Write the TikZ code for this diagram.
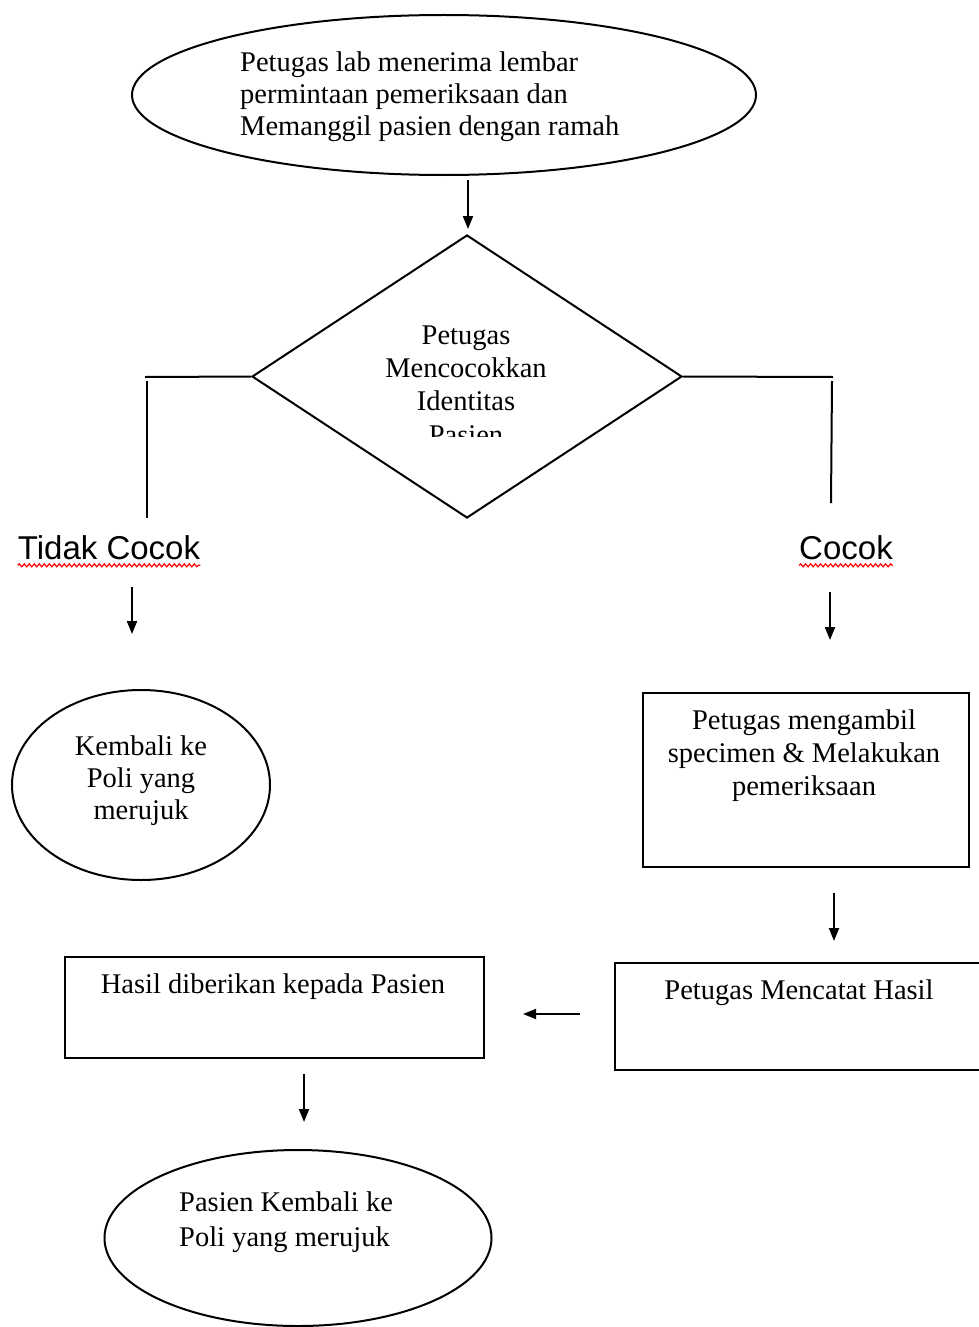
\documentclass[tikz,border=0pt]{standalone}
\usepackage{fontspec}
\setmainfont{Liberation Serif}
\newfontfamily\arialf{Liberation Sans}
\usetikzlibrary{shapes.geometric,arrows.meta,decorations.pathmorphing,calc}
\begin{document}
\begin{tikzpicture}[x=1pt,y=-1pt,
  shp/.style={draw=black,line width=2pt,inner sep=0pt},
  txt/.style={font=\fontsize{28.5}{32}\selectfont,inner sep=0pt},
  arr/.style={line width=2pt,-{Triangle[length=13pt,width=10pt]}},
  ln/.style={line width=2pt},
  lbl/.style={font=\arialf\fontsize{33}{36}\selectfont,inner sep=0pt},
  wavy/.style={draw=red,line width=1.2pt,decorate,decoration={snake,amplitude=1.5pt,segment length=5pt}}]
\useasboundingbox (0,0) rectangle (979,1327);
\fill[white] (0,0) rectangle (979,1327);

% top ellipse
\node[shp,ellipse,minimum width=624pt,minimum height=160pt] (start) at (444,95) {};
\node[txt,anchor=west,align=left] (starttxt) at (240,97) {Petugas lab menerima  lembar\\permintaan  pemeriksaan  dan\\Memanggil  pasien  dengan  ramah};

% diamond
\node[shp,diamond,minimum width=430pt,minimum height=283pt] (dec) at (467,376.5) {};
\begin{scope}
\clip (320,300) rectangle (620,436);
\node[txt,align=center,font=\fontsize{28.5}{33.3}\selectfont] (dectxt) at (466,385) {Petugas\\Mencocokkan\\Identitas\\Pasien};
\end{scope}

% branch lines
\coordinate (lh) at (145,377);
\coordinate (lv1) at (147,381);
\coordinate (lv2) at (147,518);
\coordinate (rh) at (833,377);
\coordinate (rv1) at (832,381);
\coordinate (rv2) at (831,503);
\draw[ln] (dec.west) -- (lh);
\draw[ln] (lv1) -- (lv2);
\draw[ln] (dec.east) -- (rh);
\draw[ln] (rv1) -- (rv2);

% labels
\node[lbl] (tidak) at (109,548) {Tidak Cocok};
\node[lbl] (cocok) at (846,548) {Cocok};
\draw[wavy] ($(tidak.south west)+(0,5)$) -- ($(tidak.south east)+(0,5)$);
\draw[wavy] ($(cocok.south west)+(0,5)$) -- ($(cocok.south east)+(0,5)$);

% left circle
\node[shp,ellipse,minimum width=258pt,minimum height=190pt] (kembali) at (141,785) {};
\node[txt,align=center] (kembalitxt) at (141,781) {Kembali  ke\\Poli yang\\merujuk};

% right rect
\node[shp,rectangle,minimum width=326pt,minimum height=174pt] (ambil) at (806,780) {};
\node[txt,align=center,font=\fontsize{28.5}{33}\selectfont] (ambiltxt) at (804,756) {Petugas mengambil\\specimen  \&  Melakukan\\pemeriksaan};

% mencatat
\node[shp,rectangle,minimum width=375pt,minimum height=107pt] (catat) at (802.5,1016.5) {};
\node[txt] (catattxt) at (799,993) {Petugas Mencatat  Hasil};

% hasil
\node[shp,rectangle,minimum width=419pt,minimum height=101pt] (hasil) at (274.5,1007.5) {};
\node[txt] (hasiltxt) at (273,987) {Hasil diberikan  kepada  Pasien};

% bottom ellipse
\node[shp,ellipse,minimum width=387pt,minimum height=176pt] (akhir) at (298,1238) {};
\node[txt,anchor=west,align=left,font=\fontsize{28.5}{35}\selectfont] (akhirtxt) at (179,1222) {Pasien Kembali  ke\\Poli yang merujuk};

% arrows
\coordinate (a1s) at (468,180); \coordinate (a1e) at (468,229);
\coordinate (a2s) at (132,587); \coordinate (a2e) at (132,634);
\coordinate (a3s) at (830,592); \coordinate (a3e) at (830,640);
\coordinate (a4s) at (834,893); \coordinate (a4e) at (834,941);
\coordinate (a5s) at (580,1014); \coordinate (a5e) at (523,1014);
\coordinate (a6s) at (304,1074); \coordinate (a6e) at (304,1122);
\draw[arr] (a1s) -- (a1e);
\draw[arr] (a2s) -- (a2e);
\draw[arr] (a3s) -- (a3e);
\draw[arr] (a4s) -- (a4e);
\draw[arr] (a5s) -- (a5e);
\draw[arr] (a6s) -- (a6e);
\end{tikzpicture}
\end{document}
